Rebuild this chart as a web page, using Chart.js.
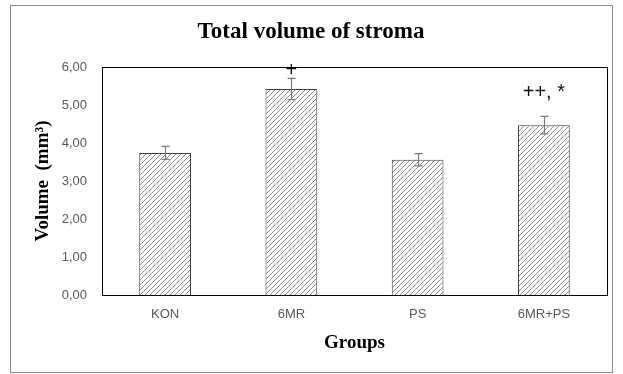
<!DOCTYPE html>
<html lang="en">
<head>
    <meta charset="UTF-8">
    <title>Total volume of stroma</title>
    <style>
        body {
            margin: 0;
            padding: 0;
            background-color: #fff;
        }
        #chart {
            display: block;
        }
    </style>
</head>
<body>
    <canvas id="chart" width="623" height="374"></canvas>

    <script src="https://cdn.jsdelivr.net/npm/chart.js/dist/chart.umd.min.js"></script>
    <script>
        // data
        const groups = ['KON', '6MR', 'PS', '6MR+PS']
        const volumes = [3.74, 5.42, 3.56, 4.47]
        const errors = [0.17, 0.28, 0.16, 0.23]
        const marks = ['', '+', '', '++, *']
        const markLevels = [null, 5.92, null, 5.34]
        const yTicks = [0, 1, 2, 3, 4, 5, 6]

        // hatch fill  ////
        function hatch() {
            const c = document.createElement('canvas')
            c.width = 5
            c.height = 5
            const g = c.getContext('2d')
            g.fillStyle = '#fff'
            g.fillRect(0, 0, 5, 5)
            g.strokeStyle = '#8a8a8a'
            g.lineWidth = 1
            g.beginPath()
            g.moveTo(-1, 6); g.lineTo(6, -1)
            g.moveTo(-1, 1); g.lineTo(1, -1)
            g.moveTo(4, 6); g.lineTo(6, 4)
            g.stroke()
            return g.createPattern(c, 'repeat')
        }

        const ctx = document.getElementById('chart').getContext('2d')

        const extras = {
            id: 'extras',
            afterDatasetsDraw(chart) {
                const c = chart.ctx
                const x = chart.scales.x
                const y = chart.scales.y
                const a = chart.chartArea
                c.save()

                // error bars
                c.strokeStyle = '#7a7a7a'
                c.lineWidth = 1.2
                volumes.forEach((v, i) => {
                    const cx = Math.round(x.getPixelForValue(i)) + 0.5
                    const top = y.getPixelForValue(v + errors[i])
                    const bot = y.getPixelForValue(v - errors[i])
                    c.beginPath()
                    c.moveTo(cx, top); c.lineTo(cx, bot)
                    c.moveTo(cx - 4, top); c.lineTo(cx + 4, top)
                    c.moveTo(cx - 4, bot); c.lineTo(cx + 4, bot)
                    c.stroke()
                })

                // significance marks
                c.fillStyle = '#111'
                c.font = '20px "Liberation Sans", Arial, sans-serif'
                c.textAlign = 'center'
                c.textBaseline = 'middle'
                marks.forEach((m, i) => {
                    if (!m) return
                    c.fillText(m, x.getPixelForValue(i), y.getPixelForValue(markLevels[i]))
                })

                // plot box
                c.strokeStyle = '#000'
                c.lineWidth = 1
                c.strokeRect(Math.round(a.left) + 0.5, Math.round(a.top) + 0.5,
                    Math.round(a.right - a.left), Math.round(a.bottom - a.top))

                // titles
                c.fillStyle = '#000'
                c.font = 'bold 23px "Liberation Serif", "Times New Roman", serif'
                c.fillText('Total volume of stroma', 311, 32)
                c.font = 'bold 19px "Liberation Serif", "Times New Roman", serif'
                c.fillText('Groups', (a.left + a.right) / 2, 343)
                c.translate(43, (a.top + a.bottom) / 2)
                c.rotate(-Math.PI / 2)
                c.fillText('Volume  (mm³)', 0, 0)
                c.restore()

                // outer frame
                c.save()
                c.strokeStyle = '#8c8c8c'
                c.lineWidth = 1
                c.strokeRect(10.5, 5.5, 602, 367)
                c.restore()
            }
        }

        new Chart(ctx, {
            type: 'bar',
            data: {
                labels: groups,
                datasets: [{
                    data: volumes,
                    backgroundColor: hatch(),
                    borderColor: '#404040',
                    borderWidth: 1,
                    barPercentage: 0.41,
                    categoryPercentage: 1
                }]
            },
            options: {
                responsive: false,
                animation: false,
                layout: {
                    padding: { left: 0, top: 67, right: 16, bottom: 0 }
                },
                plugins: {
                    legend: { display: false },
                    tooltip: { enabled: false }
                },
                scales: {
                    x: {
                        grid: { display: false, drawTicks: false },
                        border: { display: false },
                        ticks: {
                            color: '#595959',
                            padding: 12,
                            font: { family: '"Liberation Sans", Arial, sans-serif', size: 13 }
                        },
                        afterFit: (scale) => { scale.height = 79 }
                    },
                    y: {
                        min: yTicks[0],
                        max: yTicks[yTicks.length - 1],
                        grid: { display: false, drawTicks: false },
                        border: { display: false },
                        afterBuildTicks: (scale) => {
                            scale.ticks = yTicks.map(v => ({ value: v }))
                        },
                        ticks: {
                            color: '#595959',
                            padding: 15,
                            font: { family: '"Liberation Sans", Arial, sans-serif', size: 13 },
                            callback: (v) => v.toFixed(2).replace('.', ',')
                        },
                        afterFit: (scale) => { scale.width = 102 }
                    }
                }
            },
            plugins: [extras]
        });
    </script>
</body>
</html>
